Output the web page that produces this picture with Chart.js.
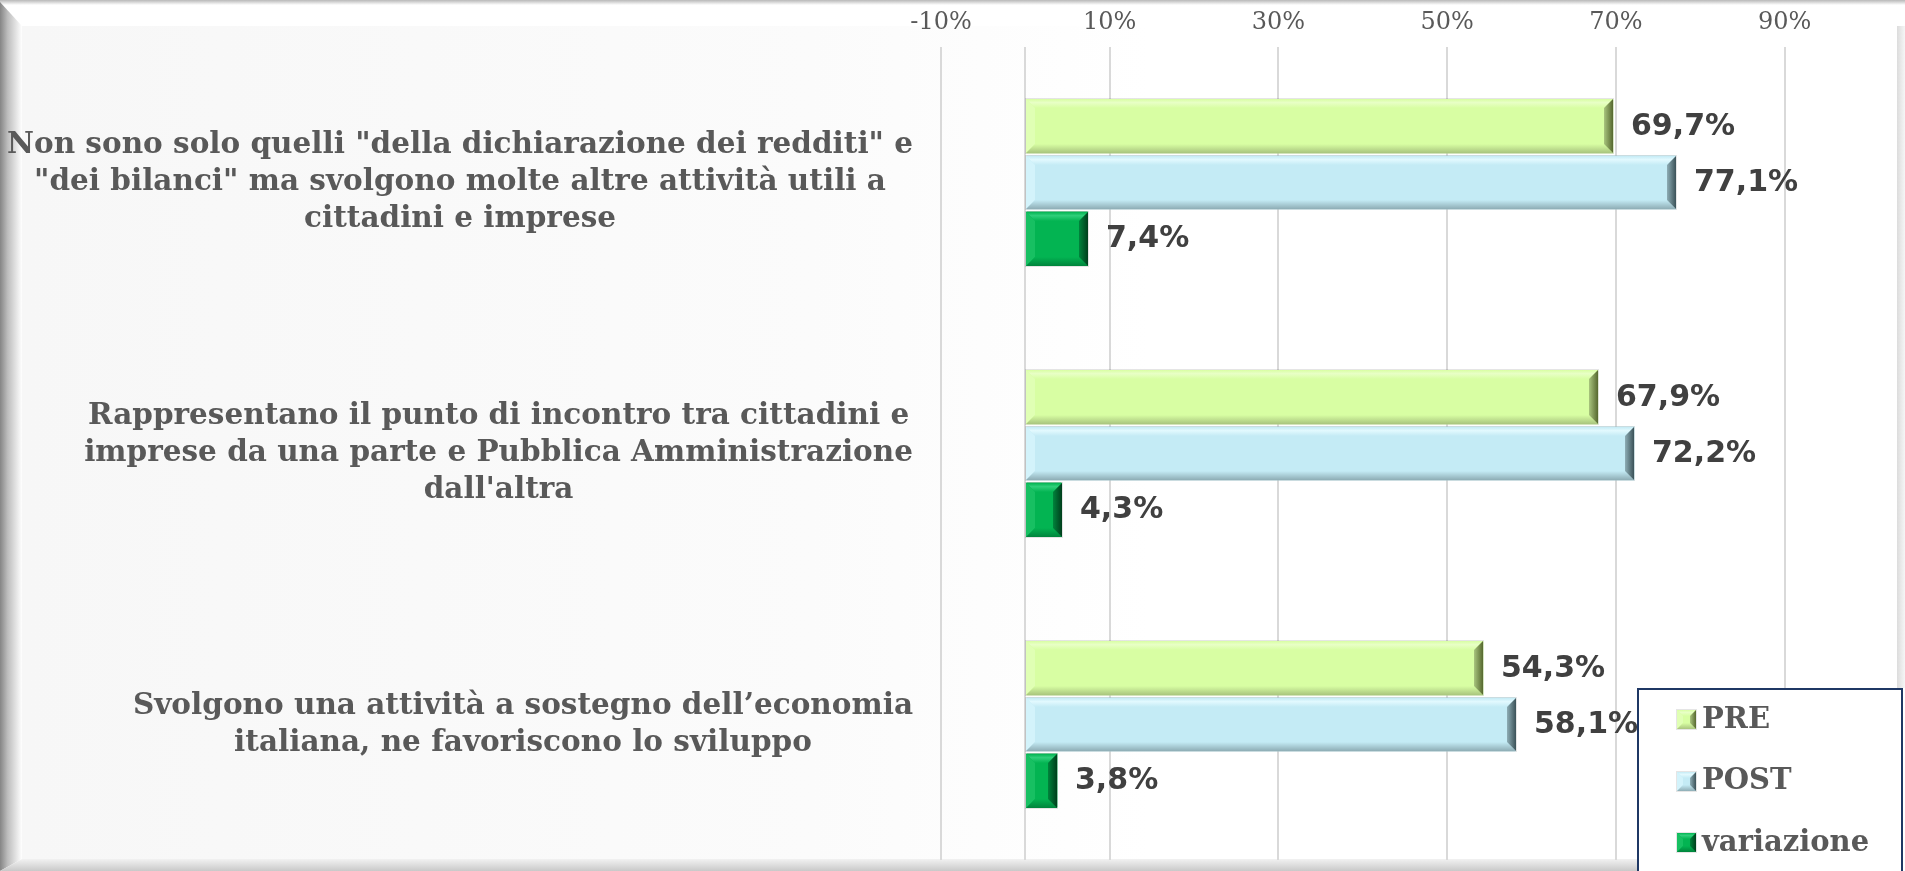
<!DOCTYPE html>
<html>
<head>
<meta charset="utf-8">
<script src="https://cdn.jsdelivr.net/npm/chart.js@4.4.1/dist/chart.umd.min.js"></script>
<style>
  html, body { margin: 0; padding: 0; background: #fff; overflow: hidden; }
  canvas { display: block; }
</style>
</head>
<body>
<canvas id="chart" width="1905" height="871"></canvas>
<script>
const categories = [
  ['Non sono solo quelli "della dichiarazione dei redditi" e', '"dei bilanci" ma svolgono molte altre attività utili a', 'cittadini e imprese'],
  ['Rappresentano il punto di incontro tra cittadini e', 'imprese da una parte e Pubblica Amministrazione', "dall'altra"],
  ['Svolgono una attività a sostegno dell’economia', 'italiana, ne favoriscono lo sviluppo']
];
const seriesNames = ['PRE', 'POST', 'variazione'];
const preValues = [69.7, 67.9, 54.3];
const postValues = [77.1, 72.2, 58.1];
const variazioneValues = [7.4, 4.3, 3.8];
const tickValues = [-10, 10, 30, 50, 70, 90];
const tickLabels = ['-10%', '10%', '30%', '50%', '70%', '90%'];

// bevel shades for each series: main, top, left, bottom, right
const shades = [
  { fill: '#d8fea3', top: '#e8ffc6', left: '#e0ffb4', bottom: '#a9c57e', right: '#56682f' },
  { fill: '#c4ebf5', top: '#e2f9fe', left: '#d3f3fb', bottom: '#8eadb5', right: '#3b5258' },
  { fill: '#03b452', top: '#2fcf7a', left: '#17c062', bottom: '#00843c', right: '#003e1c' }
];

function bevel(ctx, x0, y0, x1, y1, b, s) {
  const poly = (pts, color) => {
    ctx.beginPath();
    ctx.moveTo(pts[0][0], pts[0][1]);
    for (let i = 1; i < pts.length; i++) ctx.lineTo(pts[i][0], pts[i][1]);
    ctx.closePath();
    ctx.fillStyle = color;
    ctx.fill();
  };
  poly([[x0, y0], [x1, y0], [x1, y1], [x0, y1]], s.fill);
  let g = ctx.createLinearGradient(0, y0, 0, y0 + b);
  g.addColorStop(0, s.fill);
  g.addColorStop(0.4, s.top);
  g.addColorStop(1, s.fill);
  poly([[x0, y0], [x1, y0], [x1 - b, y0 + b], [x0 + b, y0 + b]], g);
  poly([[x0, y0], [x0 + b, y0 + b], [x0 + b, y1 - b], [x0, y1]], s.left);
  g = ctx.createLinearGradient(0, y1 - b, 0, y1);
  g.addColorStop(0, s.fill);
  g.addColorStop(1, s.bottom);
  poly([[x0, y1], [x1, y1], [x1 - b, y1 - b], [x0 + b, y1 - b]], g);
  g = ctx.createLinearGradient(x1 - b, 0, x1, 0);
  g.addColorStop(0, s.bottom);
  g.addColorStop(1, s.right);
  poly([[x1, y0], [x1 - b, y0 + b], [x1 - b, y1 - b], [x1, y1]], g);
  ctx.strokeStyle = 'rgba(0,0,0,0.10)';
  ctx.lineWidth = 1;
  ctx.strokeRect(x0 - 0.5, y0 - 0.5, x1 - x0 + 1, y1 - y0 + 1);
}

const framePlugin = {
  id: 'frame',
  beforeDraw(chart) {
    const ctx = chart.ctx;
    const W = chart.width, H = chart.height;
    ctx.save();
    ctx.fillStyle = '#ffffff';
    ctx.fillRect(0, 0, W, H);
    let g = ctx.createLinearGradient(24, 0, 1150, 0);
    g.addColorStop(0, '#f7f7f7');
    g.addColorStop(0.7, '#fbfbfb');
    g.addColorStop(1, '#ffffff');
    ctx.fillStyle = g;
    ctx.fillRect(22, 26, 1875, 833);
    // top band
    g = ctx.createLinearGradient(0, 0, 0, 5);
    g.addColorStop(0, '#b8b8b8');
    g.addColorStop(1, '#ffffff');
    ctx.fillStyle = g;
    ctx.fillRect(0, 0, W, 5);
    // left bevel
    g = ctx.createLinearGradient(0, 0, 22, 0);
    g.addColorStop(0, '#858585');
    g.addColorStop(0.35, '#bdbdbd');
    g.addColorStop(1, '#ffffff');
    ctx.fillStyle = g;
    ctx.beginPath();
    ctx.moveTo(0, 2); ctx.lineTo(22, 26); ctx.lineTo(22, 859); ctx.lineTo(0, 871);
    ctx.closePath();
    ctx.fill();
    // bottom band
    g = ctx.createLinearGradient(0, 859, 0, 871);
    g.addColorStop(0, '#f2f2f2');
    g.addColorStop(1, '#c9c9c9');
    ctx.fillStyle = g;
    ctx.beginPath();
    ctx.moveTo(0, 871); ctx.lineTo(22, 859); ctx.lineTo(W, 859); ctx.lineTo(W, 871);
    ctx.closePath();
    ctx.fill();
    // right edge
    g = ctx.createLinearGradient(1897, 0, W, 0);
    g.addColorStop(0, '#dcdcdc');
    g.addColorStop(1, '#f6f6f6');
    ctx.fillStyle = g;
    ctx.fillRect(1897, 26, 8, 833);
    ctx.restore();
  }
};

const barsPlugin = {
  id: 'bevelBars',
  afterDatasetsDraw(chart) {
    const ctx = chart.ctx;
    ctx.save();
    chart.data.datasets.forEach((ds, di) => {
      const meta = chart.getDatasetMeta(di);
      meta.data.forEach((bar, i) => {
        const p = bar.getProps(['x', 'y', 'base', 'height'], true);
        const y0 = Math.round(p.y - p.height / 2), y1 = Math.round(p.y + p.height / 2);
        const x0 = Math.round(p.base), x1 = Math.round(p.x);
        bevel(ctx, x0, y0, x1, y1, 9, shades[di]);
        const txt = ds.data[i].toFixed(1).replace('.', ',') + '%';
        ctx.font = 'bold 30px "DejaVu Sans"';
        ctx.fillStyle = '#404040';
        ctx.textAlign = 'left';
        ctx.textBaseline = 'middle';
        ctx.fillText(txt, x1 + 18, p.y + 1);
      });
    });
    ctx.restore();
  }
};

const labelsPlugin = {
  id: 'catLabels',
  afterDraw(chart) {
    const ctx = chart.ctx;
    const yScale = chart.scales.y;
    ctx.save();
    ctx.font = 'bold 29.5px "DejaVu Serif"';
    ctx.fillStyle = '#595959';
    ctx.textAlign = 'center';
    ctx.textBaseline = 'middle';
    const right = 913, lh = 37;
    categories.forEach((lines, i) => {
      const cy = yScale.getPixelForValue(i);
      const maxW = Math.max(...lines.map(l => ctx.measureText(l).width));
      const cx = right - maxW / 2;
      lines.forEach((l, j) => {
        ctx.fillText(l, cx, cy + (j - (lines.length - 1) / 2) * lh);
      });
    });

    // legend
    ctx.fillStyle = '#ffffff';
    ctx.fillRect(1637, 688, 268, 190);
    ctx.strokeStyle = '#1f3864';
    ctx.lineWidth = 2;
    ctx.strokeRect(1638, 689, 264, 200);
    ctx.font = 'bold 29px "DejaVu Serif"';
    ctx.textAlign = 'left';
    chart.data.datasets.forEach((ds, di) => {
      const cy = 719 + di * 61.5;
      bevel(ctx, 1677, Math.round(cy - 9), 1696, Math.round(cy + 10), 6, shades[di]);
      ctx.fillStyle = '#595959';
      ctx.fillText(ds.label, 1702, cy + 1);
    });
    ctx.restore();
  }
};

const data = {
  labels: categories,
  datasets: [
    { label: seriesNames[0], data: preValues, backgroundColor: shades[0].fill },
    { label: seriesNames[1], data: postValues, backgroundColor: shades[1].fill },
    { label: seriesNames[2], data: variazioneValues, backgroundColor: shades[2].fill }
  ]
};

const config = {
  type: 'bar',
  data: data,
  options: {
    indexAxis: 'y',
    responsive: false,
    animation: false,
    devicePixelRatio: 1,
    layout: { padding: { left: 0, right: 36, top: 0, bottom: 11 } },
    datasets: {
      bar: { barPercentage: 0.964, categoryPercentage: 0.62, borderWidth: 0 }
    },
    plugins: {
      legend: { display: false },
      tooltip: { enabled: false }
    },
    scales: {
      x: {
        position: 'top',
        min: -10,
        max: 100,
        afterBuildTicks: (scale) => {
          scale.ticks = [...tickValues, 0].sort((a, b) => a - b).map(v => ({ value: v }));
        },
        afterFit: (scale) => { scale.height = 47; },
        grid: { color: '#d9d9d9', lineWidth: 2, drawTicks: false },
        border: { display: false },
        ticks: {
          padding: 10,
          color: '#595959',
          font: { family: 'DejaVu Serif', size: 24 },
          callback: (value) => {
            const idx = tickValues.indexOf(value);
            return idx >= 0 ? tickLabels[idx] : '';
          }
        }
      },
      y: {
        afterFit: (scale) => { scale.width = 941; },
        grid: { display: false },
        border: { display: false },
        ticks: { display: false }
      }
    }
  },
  plugins: [framePlugin, barsPlugin, labelsPlugin]
};

new Chart(document.getElementById('chart'), config);
</script>
</body>
</html>
